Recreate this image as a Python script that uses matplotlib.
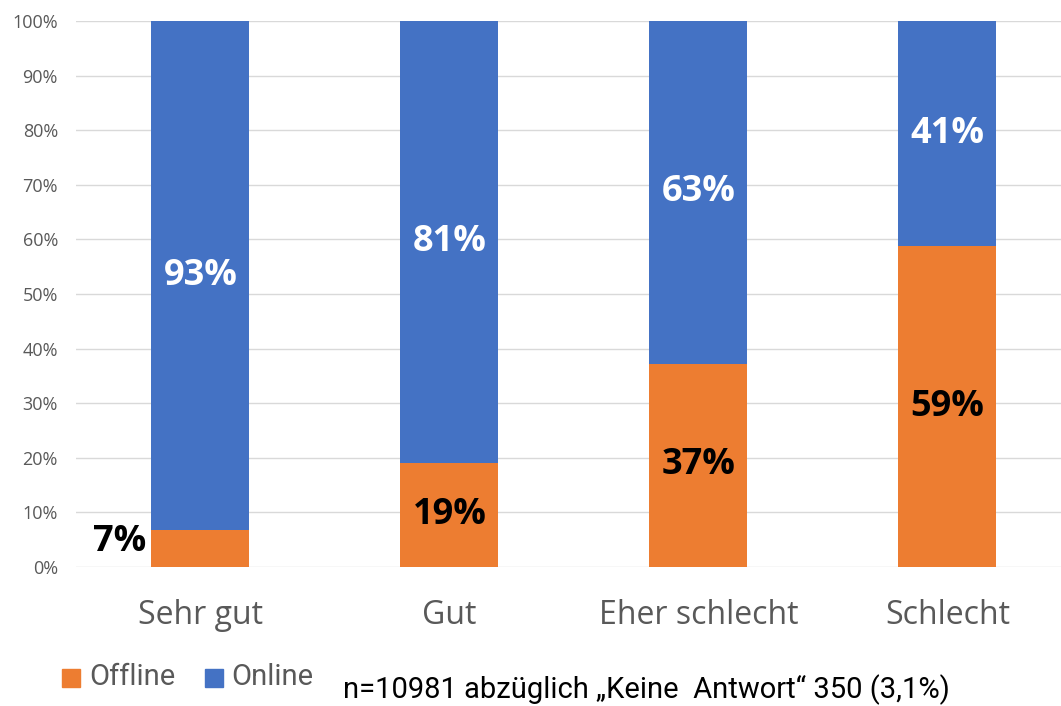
import matplotlib.pyplot as plt
import numpy as np

categories = ["Sehr gut", "Gut", "Eher schlecht", "Schlecht"]
offline = [6.7, 19.1, 37.2, 58.7]
online = [100 - v for v in offline]
offline_labels = ["7%", "19%", "37%", "59%"]
online_labels = ["93%", "81%", "63%", "41%"]
note = "n=10981 abzüglich \u201eKeine  Antwort\u201c 350 (3,1%)"

orange = "#ED7D31"
blue = "#4472C4"
W, H = 1061, 706

fig = plt.figure(figsize=(W / 100, H / 100), dpi=100)
ax = fig.add_axes([76 / W, (H - 567) / H, 996 / W, 546 / H])
x = np.arange(len(categories))
bw = 98 / 249

ax.bar(x, offline, bw, color=orange, zorder=3)
ax.bar(x, online, bw, bottom=offline, color=blue, zorder=3)

ax.set_xlim(-0.5, 3.5)
ax.set_ylim(0, 100)
ax.set_yticks(range(0, 101, 10))
ax.set_yticklabels([f"{v}%" for v in range(0, 101, 10)], fontsize=13, color="#595959",
                   family=["Open Sans", "DejaVu Sans"])
ax.set_xticks(x)
ax.set_xticklabels(categories, fontsize=23, color="#595959", family=["Open Sans", "DejaVu Sans"])
ax.tick_params(axis="both", length=0)
ax.tick_params(axis="x", pad=23)
ax.tick_params(axis="y", pad=13)
ax.grid(axis="y", color="#d9d9d9", lw=1, zorder=0)
for s in ax.spines.values():
    s.set_visible(False)

bold = dict(fontsize=26, fontweight="bold", ha="center", va="center",
            family=["Open Sans", "DejaVu Sans"], zorder=4)
for i in range(len(categories)):
    ax.text(x[i], offline[i] + online[i] / 2, online_labels[i], color="white", **bold)
    if i == 0:
        ax.text(x[i] - bw / 2 - 0.02, offline[i] / 2 + 1.2, offline_labels[i], color="black",
                **{**bold, "ha": "right"})
    else:
        ax.text(x[i], offline[i] / 2, offline_labels[i], color="black", **bold)

# legend + note
fig.patches.append(plt.Rectangle((62 / W, (H - 687) / H), 18 / W, 18 / H, color=orange,
                                 transform=fig.transFigure))
fig.text(89 / W, (H - 677) / H, "Offline", fontsize=21, color="#595959", va="center",
         family=["Roboto", "DejaVu Sans"])
fig.patches.append(plt.Rectangle((205 / W, (H - 687) / H), 18 / W, 18 / H, color=blue,
                                 transform=fig.transFigure))
fig.text(231 / W, (H - 677) / H, "Online", fontsize=21, color="#595959", va="center",
         family=["Roboto", "DejaVu Sans"])
fig.text(343 / W, (H - 690) / H, note, fontsize=21, color="black", va="center",
         family=["Roboto", "DejaVu Sans"])

fig.savefig("out.png", dpi=100)
